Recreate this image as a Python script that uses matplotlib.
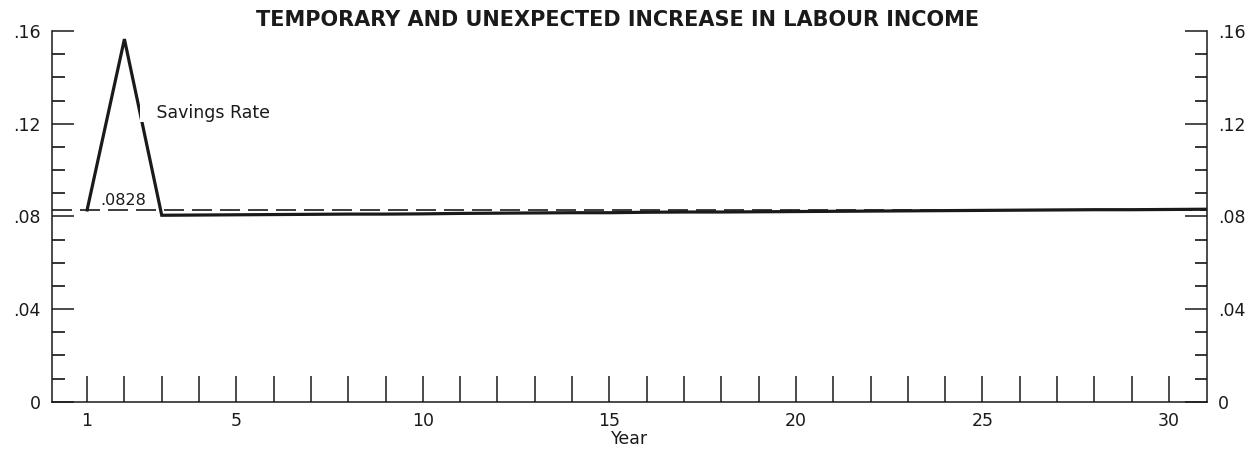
import numpy as np
import matplotlib
matplotlib.use("Agg")
import matplotlib.pyplot as plt
from matplotlib.ticker import FixedLocator, MultipleLocator

# savings rate by year
years = list(range(1, 32))
savings_rate = [0.0828, 0.1565, 0.0805, 0.0806, 0.0807, 0.0808, 0.0809, 0.0810,
                0.0810, 0.0811, 0.0813, 0.0814, 0.0815, 0.0816, 0.0816, 0.0818,
                0.0819, 0.0819, 0.0820, 0.0821, 0.0822, 0.0823, 0.0824, 0.0825,
                0.0826, 0.0827, 0.0828, 0.0829, 0.0829, 0.0830, 0.0831]
base_rate = 0.0828
x_labels = {1: "1", 5: "5", 10: "10", 15: "15", 20: "20", 25: "25", 30: "30"}
y_ticks = [0, 0.04, 0.08, 0.12, 0.16]
y_tick_labels = ["0", ".04", ".08", ".12", ".16"]

title = "TEMPORARY AND UNEXPECTED INCREASE IN LABOUR INCOME"
ink = "#1a1a1a"

plt.rcParams['font.family'] = ['DejaVu Sans']

fig = plt.figure(figsize=(12.51, 4.49), dpi=100)
ax = fig.add_axes([0.0416, 0.105, 0.9233, 0.826])

# baseline and savings rate path
ax.axhline(base_rate, color=ink, lw=1.2, dashes=(12, 4.8))
ax.plot(years, savings_rate, color=ink, lw=2.3, solid_joinstyle="miter")

ax.text(1.35, 0.0838, f".{str(base_rate)[2:]}", fontsize=11.5, color=ink,
        va="bottom", ha="left")
ax.text(2.43, 0.1248, "   Savings Rate", fontsize=12.5, color=ink, va="center",
        ha="left", bbox=dict(facecolor="white", edgecolor="none", pad=0))

ax.set_xlim(0.06, 31.02)
ax.set_ylim(0, 0.16)

# x ticks: every year, labels at a few
ax.xaxis.set_major_locator(FixedLocator(years[:30]))
ax.set_xticklabels([x_labels.get(y, "") for y in years[:30]])
ax.tick_params(axis="x", direction="in", length=19, width=1.1, pad=7,
               labelsize=12.5, colors=ink)

# y ticks on both sides
ax.set_yticks(y_ticks)
ax.set_yticklabels(y_tick_labels)
ax.yaxis.set_minor_locator(MultipleLocator(0.01))
ax.tick_params(axis="y", which="major", direction="in", length=16, width=1.1,
               left=True, right=True, labelleft=True, labelright=True,
               labelsize=12.5, colors=ink, pad=8)
ax.tick_params(axis="y", which="minor", direction="in", length=9, width=1.1,
               left=True, right=True)

for side in ["left", "right", "bottom"]:
    ax.spines[side].set_linewidth(1.1)
    ax.spines[side].set_color(ink)
ax.spines["top"].set_visible(False)

ax.set_xlabel("Year", fontsize=12.5, color=ink, labelpad=0)

fig.text(0.494, 0.955, title, fontsize=15, fontweight="bold", color=ink,
         ha="center", va="center")

fig.savefig("out.png", dpi=100)
